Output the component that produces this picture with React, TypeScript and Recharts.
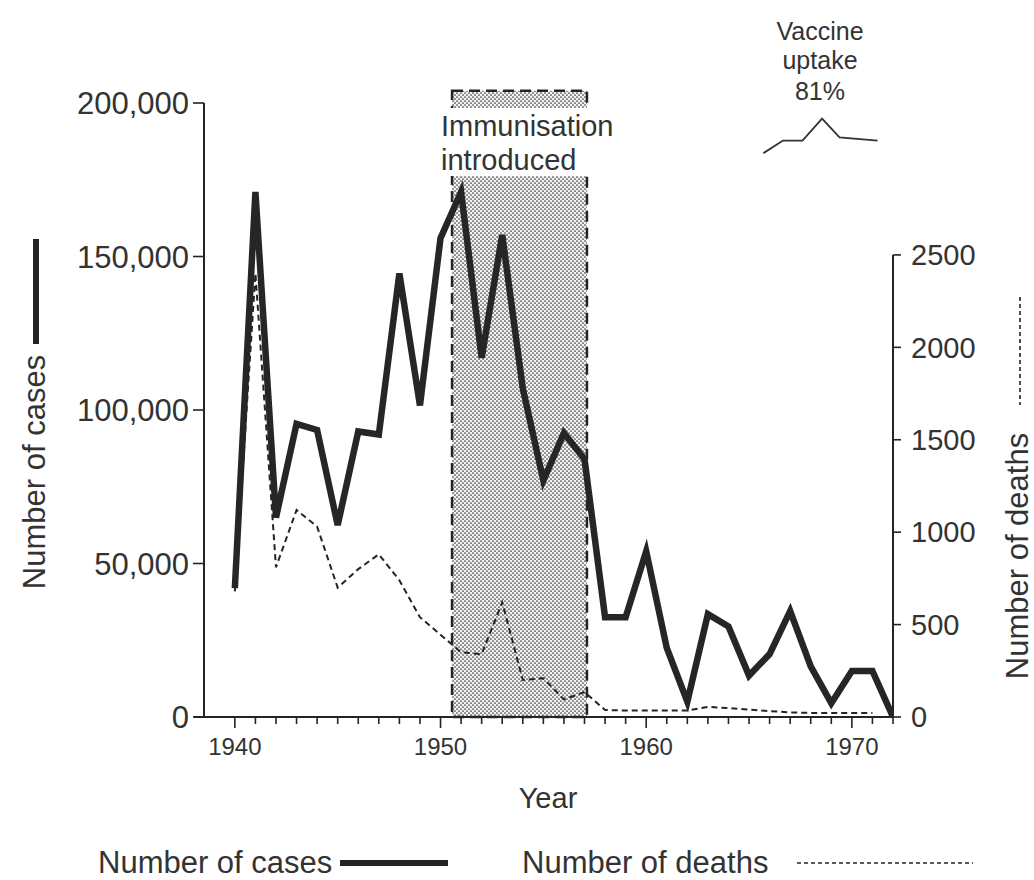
import React from 'react';
import { ComposedChart, Line, XAxis, YAxis, ReferenceArea, ReferenceLine } from 'recharts';

const FONT = '"Liberation Sans", Arial, Helvetica, sans-serif';
const TEXT = '#333333';
const INK = '#242424';

// ---- data ----
const years = [
  1940, 1941, 1942, 1943, 1944, 1945, 1946, 1947, 1948, 1949,
  1950, 1951, 1952, 1953, 1954, 1955, 1956, 1957, 1958, 1959,
  1960, 1961, 1962, 1963, 1964, 1965, 1966, 1967, 1968, 1969,
  1970, 1971, 1972,
];
const cases = [
  42000, 171000, 65000, 95500, 93500, 62500, 93000, 92000, 144500, 101500,
  156000, 171000, 117000, 157000, 107000, 77000, 92500, 84000, 32500, 32500,
  54000, 22500, 5000, 33500, 29500, 13500, 20500, 34500, 16500, 4500,
  15000, 15000, 0,
];
const deathYears = [
  1940, 1941, 1942, 1943, 1944, 1945, 1946, 1947, 1948, 1949,
  1950, 1951, 1952, 1953, 1954, 1955, 1956, 1957, 1958, 1959,
  1960, 1961, 1962, 1963, 1964, 1965, 1966, 1967, 1968, 1969,
  1970, 1971,
];
const deaths = [
  680, 2400, 810, 1120, 1030, 700, 800, 880, 740, 540,
  445, 350, 340, 620, 200, 210, 95, 135, 38, 35,
  35, 35, 35, 55, 48, 40, 32, 25, 22, 22,
  22, 22,
];
const uptakeYears = [1965.7, 1966.65, 1967.6, 1968.55, 1969.4, 1971.25];
const uptake = [70, 74, 74, 81, 75, 74];

const caseTicks = [0, 50000, 100000, 150000, 200000];
const deathTicks = [0, 500, 1000, 1500, 2000, 2500];
const yearTicks = Array.from({ length: 33 }, (_, i) => 1940 + i);
const immunisationFrom = 1950.56;
const immunisationTo = 1957.12;

const casesData = years.map((year, i) => ({ year, cases: cases[i] }));
const deathsData = deathYears.map((year, i) => ({ year, deaths: deaths[i] }));
const uptakeData = uptakeYears.map((year, i) => ({ year, uptake: uptake[i] }));

const fmt = (v: number) => v.toLocaleString('en-US');

const XTick = (props: any) => {
  const { x, y, payload } = props;
  const v = payload.value as number;
  const major = v % 10 === 0;
  return (
    <g>
      <line x1={x} x2={x} y1={y} y2={y + (major ? 11 : 7)} stroke={INK} strokeWidth={1.6} />
      {major && (
        <text x={x} y={y + 38} textAnchor="middle" fontSize={24} fontFamily={FONT} fill={TEXT}>
          {v}
        </text>
      )}
    </g>
  );
};

const LeftTitle = () => (
  <g>
    <text
      x={45}
      y={472}
      transform="rotate(-90 45 472)"
      textAnchor="middle"
      fontSize={31}
      fontFamily={FONT}
      fill={TEXT}
    >
      Number of cases
    </text>
    <line x1={36} x2={36} y1={239} y2={344} stroke={INK} strokeWidth={6} />
  </g>
);

const RightTitle = () => (
  <g>
    <text
      x={1028}
      y={556}
      transform="rotate(-90 1028 556)"
      textAnchor="middle"
      fontSize={31}
      fontFamily={FONT}
      fill={TEXT}
    >
      Number of deaths
    </text>
    <line x1={1020} x2={1020} y1={297} y2={405} stroke={INK} strokeWidth={1.6} strokeDasharray="4 3" />
  </g>
);

const BottomTexts = () => (
  <g fontFamily={FONT} fill={TEXT}>
    <text x={548} y={808} textAnchor="middle" fontSize={29}>Year</text>
    <text x={98} y={873} fontSize={31}>Number of cases</text>
    <line x1={340} x2={448} y1={863} y2={863} stroke={INK} strokeWidth={6} />
    <text x={522} y={873} fontSize={31}>Number of deaths</text>
    <line x1={797} x2={973} y1={863} y2={863} stroke={INK} strokeWidth={1.6} strokeDasharray="4 3" />
    <text x={820} y={40} textAnchor="middle" fontSize={25}>Vaccine</text>
    <text x={820} y={69} textAnchor="middle" fontSize={25}>uptake</text>
    <text x={820} y={100} textAnchor="middle" fontSize={25}>81%</text>
  </g>
);

const ImmunisationText = () => (
  <g fontFamily={FONT} fill={TEXT} fontSize={29}>
    <text x={441} y={136}>Immunisation</text>
    <text x={441} y={170}>introduced</text>
  </g>
);

export default function App() {
  return (
    <div style={{ position: 'absolute', left: 0, top: 0, width: 1034, height: 880, background: '#ffffff' }}>
      <svg width={0} height={0} style={{ position: 'absolute' }}>
        <defs>
          <pattern id="dots" width={4} height={4} patternUnits="userSpaceOnUse">
            <rect width={4} height={4} fill="#f2f2f2" />
            <circle cx={1} cy={1} r={0.85} fill="#3a3a3a" />
            <circle cx={3} cy={3} r={0.85} fill="#3a3a3a" />
          </pattern>
        </defs>
      </svg>
      <ComposedChart
        width={1034}
        height={880}
        margin={{ top: 103, right: 41, bottom: 103, left: 84 }}
      >
        <XAxis
          xAxisId="x"
          type="number"
          dataKey="year"
          domain={[1938.5, 1972]}
          ticks={yearTicks}
          interval={0}
          allowDataOverflow
          height={60}
          tickSize={0}
          tickMargin={0}
          tickLine={false}
          tick={<XTick />}
          axisLine={{ stroke: INK, strokeWidth: 2 }}
          label={() => <BottomTexts />}
        />
        <YAxis
          yAxisId="left"
          domain={[0, 200000]}
          ticks={caseTicks}
          interval={0}
          width={120}
          tickFormatter={fmt}
          tickSize={11}
          tickMargin={4}
          tick={{ fontSize: 31, fontFamily: FONT, fill: TEXT }}
          tickLine={{ stroke: INK, strokeWidth: 1.6 }}
          axisLine={{ stroke: INK, strokeWidth: 2 }}
          label={() => <LeftTitle />}
        />
        <YAxis
          yAxisId="right"
          orientation="right"
          domain={[0, 3322]}
          ticks={deathTicks}
          interval={0}
          width={100}
          tickSize={8}
          tickMargin={10}
          tick={{ fontSize: 29, fontFamily: FONT, fill: TEXT, textAnchor: 'start' }}
          tickLine={{ stroke: INK, strokeWidth: 1.6 }}
          axisLine={false}
          label={() => <RightTitle />}
        />
        <YAxis yAxisId="uptake" hide domain={[-110, 86]} />

        <ReferenceArea
          xAxisId="x"
          yAxisId="left"
          x1={immunisationFrom}
          x2={immunisationTo}
          y1={0}
          y2={204000}
          ifOverflow="visible"
          fill="url(#dots)"
          fillOpacity={1}
          stroke={INK}
          strokeWidth={2.5}
          strokeDasharray="11 6"
        />
        <ReferenceArea
          xAxisId="x"
          yAxisId="left"
          x1={immunisationFrom - 0.1}
          x2={immunisationTo + 0.1}
          y1={176200}
          y2={198400}
          ifOverflow="visible"
          fill="#ffffff"
          fillOpacity={1}
          stroke="none"
          label={() => <ImmunisationText />}
        />
        <ReferenceLine
          xAxisId="x"
          yAxisId="right"
          segment={[{ x: 1972, y: 0 }, { x: 1972, y: 2500 }]}
          stroke={INK}
          strokeWidth={2}
          ifOverflow="visible"
        />
        <ReferenceLine
          xAxisId="x"
          yAxisId="left"
          segment={[{ x: 1938, y: 0 }, { x: 1938.5, y: 0 }]}
          stroke={INK}
          strokeWidth={2}
          ifOverflow="visible"
        />

        <Line
          xAxisId="x"
          yAxisId="right"
          data={deathsData}
          dataKey="deaths"
          type="linear"
          stroke={INK}
          strokeWidth={2}
          strokeDasharray="6 4"
          dot={false}
          isAnimationActive={false}
        />
        <Line
          xAxisId="x"
          yAxisId="left"
          data={casesData}
          dataKey="cases"
          type="linear"
          stroke="#262626"
          strokeWidth={6.5}
          strokeLinejoin="miter"
          dot={false}
          isAnimationActive={false}
        />
        <Line
          xAxisId="x"
          yAxisId="uptake"
          data={uptakeData}
          dataKey="uptake"
          type="linear"
          stroke="#333"
          strokeWidth={1.8}
          dot={false}
          isAnimationActive={false}
        />
      </ComposedChart>
    </div>
  );
}
